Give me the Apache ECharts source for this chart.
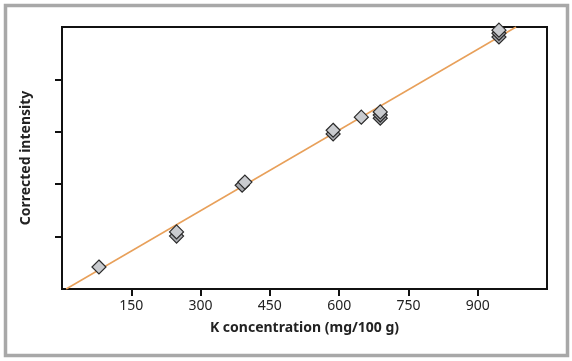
<!DOCTYPE html>
<html><head><meta charset="utf-8">
<script src="https://cdn.jsdelivr.net/npm/echarts@6/dist/echarts.min.js"></script>
<style>html,body{margin:0;padding:0;background:#fff}#c{width:572px;height:361px}</style>
</head><body><div id="c"></div>
<script>
// Tick labels
const xTicks = [150, 300, 450, 600, 750, 900];
const yTicks = [1, 2, 3, 4];
// Measured samples: K concentration vs corrected intensity (replicates, lower drawn first)
const lowerPoints = [
  [248, 1.01], [390, 1.98], [587, 2.96], [689, 3.26], [689, 3.32], [946, 4.81], [946, 4.88]
];
const upperPoints = [
  [80, 0.42], [248, 1.09], [396, 2.04], [587, 3.03], [648, 3.28], [689, 3.38], [946, 4.94]
];
// Calibration (regression) line end points
const fitLine = [[9, 0], [983, 5]];

const font = 'Noto Sans';
const chart = echarts.init(document.getElementById('c'));
chart.setOption({
  animation: false,
  backgroundColor: '#fff',
  graphic: [{
    type: 'rect', shape: {x: 5.5, y: 5.5, width: 562, height: 350},
    style: {fill: 'none', stroke: '#a8a8a8', lineWidth: 3.5}, silent: true, z: -1
  }],
  grid: {left: 62, top: 27, right: 25, bottom: 72, show: true, borderColor: '#111', borderWidth: 2},
  xAxis: {
    type: 'value', min: 0, max: 1050, interval: 150,
    name: 'K concentration (mg/100 g)', nameLocation: 'middle', nameGap: 32,
    nameTextStyle: {fontFamily: font, fontWeight: 'bold', fontSize: 14, color: '#222'},
    axisLine: {show: true, lineStyle: {color: '#111', width: 2}},
    axisTick: {show: true, length: 7, lineStyle: {color: '#111', width: 2}, customValues: xTicks},
    axisLabel: {fontFamily: font, fontSize: 14, color: '#222', margin: 10, customValues: xTicks},
    splitLine: {show: false}
  },
  yAxis: {
    type: 'value', min: 0, max: 5, interval: 1,
    name: 'Corrected intensity', nameLocation: 'middle', nameGap: 29,
    nameTextStyle: {fontFamily: font, fontWeight: 'bold', fontSize: 14, color: '#222'},
    axisLine: {show: true, lineStyle: {color: '#111', width: 2}},
    axisTick: {show: true, length: 7, lineStyle: {color: '#111', width: 2}, customValues: yTicks},
    axisLabel: {show: false},
    splitLine: {show: false}
  },
  series: [
    {type: 'line', data: fitLine, symbol: 'none', z: 1,
     lineStyle: {color: '#e8a05a', width: 1.5}},
    {type: 'scatter', data: lowerPoints, symbol: 'diamond', symbolSize: 14, z: 2,
     itemStyle: {color: '#a9abb0', borderColor: '#2a2a2a', borderWidth: 1.2, opacity: 1}},
    {type: 'scatter', data: upperPoints, symbol: 'diamond', symbolSize: 14, z: 3,
     itemStyle: {color: '#c9cbcf', borderColor: '#2a2a2a', borderWidth: 1.2, opacity: 1}}
  ]
});
</script></body></html>
